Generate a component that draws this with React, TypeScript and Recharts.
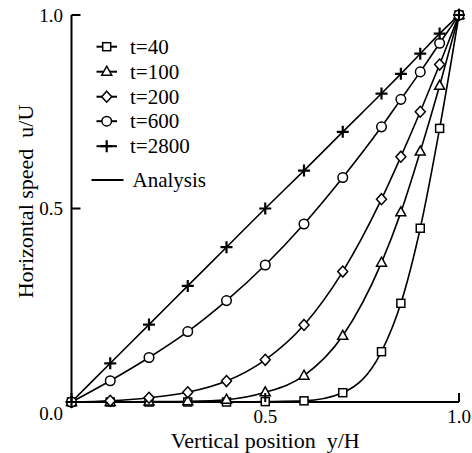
import { Label, Line, LineChart, XAxis, YAxis } from "recharts";

// positions across the gap (y/H)
const positions = [0, 0.1, 0.2, 0.3, 0.4, 0.5, 0.6, 0.7, 0.8, 0.85, 0.9, 0.95, 1];

// horizontal speed u/U
const speedT40 = [0, 0, 0, 0, 0, 0.001, 0.003, 0.024, 0.13, 0.255, 0.449, 0.707, 1];
const speedT100 = [0, 0, 0.001, 0.002, 0.006, 0.025, 0.068, 0.171, 0.36, 0.49, 0.647, 0.817, 1];
const speedT200 = [0, 0.003, 0.011, 0.025, 0.054, 0.109, 0.199, 0.337, 0.524, 0.634, 0.75, 0.872, 1];
const speedT600 = [0, 0.055, 0.115, 0.182, 0.262, 0.354, 0.46, 0.58, 0.711, 0.782, 0.853, 0.927, 1];
const speedT2800 = [0, 0.1, 0.2, 0.3, 0.4, 0.5, 0.598, 0.698, 0.797, 0.848, 0.9, 0.952, 1];

const axisTicks = [0, 0.5, 1];

const series = [
  { key: "t40", name: "t=40", shape: "square", values: speedT40 },
  { key: "t100", name: "t=100", shape: "triangle", values: speedT100 },
  { key: "t200", name: "t=200", shape: "diamond", values: speedT200 },
  { key: "t600", name: "t=600", shape: "circle", values: speedT600 },
  { key: "t2800", name: "t=2800", shape: "plus", values: speedT2800 },
];

const data = positions.map((x, i) => {
  const row: Record<string, number> = { x };
  series.forEach((s) => (row[s.key] = s.values[i]));
  return row;
});

const font = '"Liberation Serif", "Times New Roman", serif';

function Marker({ shape, cx, cy }: { shape: string; cx: number; cy: number }) {
  const common = { fill: "#fff", stroke: "#000", strokeWidth: 1.5 };
  if (shape === "square") return <rect x={cx - 4} y={cy - 4} width={8} height={8} {...common} />;
  if (shape === "triangle")
    return <polygon points={`${cx},${cy - 5.5} ${cx + 5},${cy + 3.5} ${cx - 5},${cy + 3.5}`} {...common} />;
  if (shape === "diamond")
    return <polygon points={`${cx},${cy - 5.5} ${cx + 5},${cy} ${cx},${cy + 5.5} ${cx - 5},${cy}`} {...common} />;
  if (shape === "circle") return <circle cx={cx} cy={cy} r={4.8} {...common} />;
  return <path d={`M${cx - 6},${cy}H${cx + 6}M${cx},${cy - 6}V${cy + 6}`} stroke="#000" strokeWidth={2.2} fill="none" />;
}

const BottomTick = ({ x, y, payload }: any) => (
  <g>
    <line x1={x} x2={x} y1={y} y2={y - 9} stroke="#000" strokeWidth={2} />
    {payload.value !== 0 && (
      <text x={x} y={y + 20.5} textAnchor="middle" fontFamily={font} fontSize={19} fill="#000">
        {payload.value.toFixed(1)}
      </text>
    )}
  </g>
);

const TopTick = ({ x, y }: any) => <line x1={x} x2={x} y1={y} y2={y + 9} stroke="#000" strokeWidth={2} />;

const LeftTick = ({ x, y, payload }: any) => (
  <g>
    <line x1={x} x2={x + 9} y1={y} y2={y} stroke="#000" strokeWidth={2} />
    <text
      x={x - 8.5}
      y={payload.value === 0 ? y + 17.5 : y + 6.5}
      textAnchor="end"
      fontFamily={font}
      fontSize={19}
      fill="#000"
    >
      {payload.value.toFixed(1)}
    </text>
  </g>
);

const RightTick = ({ x, y }: any) => <line x1={x} x2={x - 9} y1={y} y2={y} stroke="#000" strokeWidth={2} />;

function LegendBox() {
  const rowY = [46.7, 71.7, 96.7, 121.2, 146.2];
  return (
    <svg width={472} height={453} style={{ position: "absolute", left: 0, top: 0, pointerEvents: "none" }}>
      {series.map((s, i) => (
        <g key={s.key}>
          <line x1={96.5} x2={117} y1={rowY[i]} y2={rowY[i]} stroke="#000" strokeWidth={2} />
          <Marker shape={s.shape} cx={106.7} cy={rowY[i]} />
          <text x={130} y={rowY[i] + 7} fontFamily={font} fontSize={21} fill="#000">
            {s.name}
          </text>
        </g>
      ))}
      <line x1={91.5} x2={123.5} y1={180} y2={180} stroke="#000" strokeWidth={2} />
      <text x={132.5} y={187} fontFamily={font} fontSize={21} fill="#000">
        Analysis
      </text>
    </svg>
  );
}

export default function App() {
  return (
    <div style={{ position: "absolute", left: 0, top: 0, width: 472, height: 453, background: "#fff" }}>
      <LineChart width={472} height={453} data={data} margin={{ top: 15, right: 13, bottom: 0, left: 0 }}>
        <XAxis
          dataKey="x"
          type="number"
          domain={[0, 1]}
          ticks={axisTicks}
          height={51}
          tickSize={0}
          tickMargin={0}
          tickLine={false}
          axisLine={{ stroke: "#000", strokeWidth: 2 }}
          tick={BottomTick}
        >
          <Label
            content={({ viewBox }: any) => (
              <text
                x={viewBox.x + viewBox.width / 2}
                y={448}
                textAnchor="middle"
                fontFamily={font}
                fontSize={22}
                fill="#000"
              >
                {"Vertical position\u00a0\u00a0y/H"}
              </text>
            )}
          />
        </XAxis>
        <XAxis
          xAxisId="top"
          orientation="top"
          type="number"
          domain={[0, 1]}
          ticks={axisTicks}
          height={0}
          tickSize={0}
          tickMargin={0}
          tickLine={false}
          axisLine={{ stroke: "#000", strokeWidth: 2 }}
          tick={TopTick}
        />
        <YAxis
          type="number"
          domain={[0, 1]}
          ticks={axisTicks}
          width={71.5}
          tickSize={0}
          tickMargin={0}
          tickLine={false}
          axisLine={{ stroke: "#000", strokeWidth: 2 }}
          tick={LeftTick}
        >
          <Label
            content={({ viewBox }: any) => (
              <text
                transform={`translate(25, ${viewBox.y + viewBox.height / 2 - 7}) rotate(-90)`}
                textAnchor="middle"
                dominantBaseline="central"
                fontFamily={font}
                fontSize={22}
                fill="#000"
              >
                {"Horizontal speed\u00a0\u00a0u/U"}
              </text>
            )}
          />
        </YAxis>
        <YAxis
          yAxisId="right"
          orientation="right"
          type="number"
          domain={[0, 1]}
          ticks={axisTicks}
          width={0}
          tickSize={0}
          tickMargin={0}
          tickLine={false}
          axisLine={{ stroke: "#000", strokeWidth: 2 }}
          tick={RightTick}
        />
        {series.map((s) => (
          <Line
            key={s.key}
            dataKey={s.key}
            name={s.name}
            type="monotone"
            stroke="#000"
            strokeWidth={1.6}
            isAnimationActive={false}
            dot={(p: any) => <Marker key={`${s.key}-${p.index}`} shape={s.shape} cx={p.cx} cy={p.cy} />}
            activeDot={false}
          />
        ))}
      </LineChart>
      <LegendBox />
    </div>
  );
}
